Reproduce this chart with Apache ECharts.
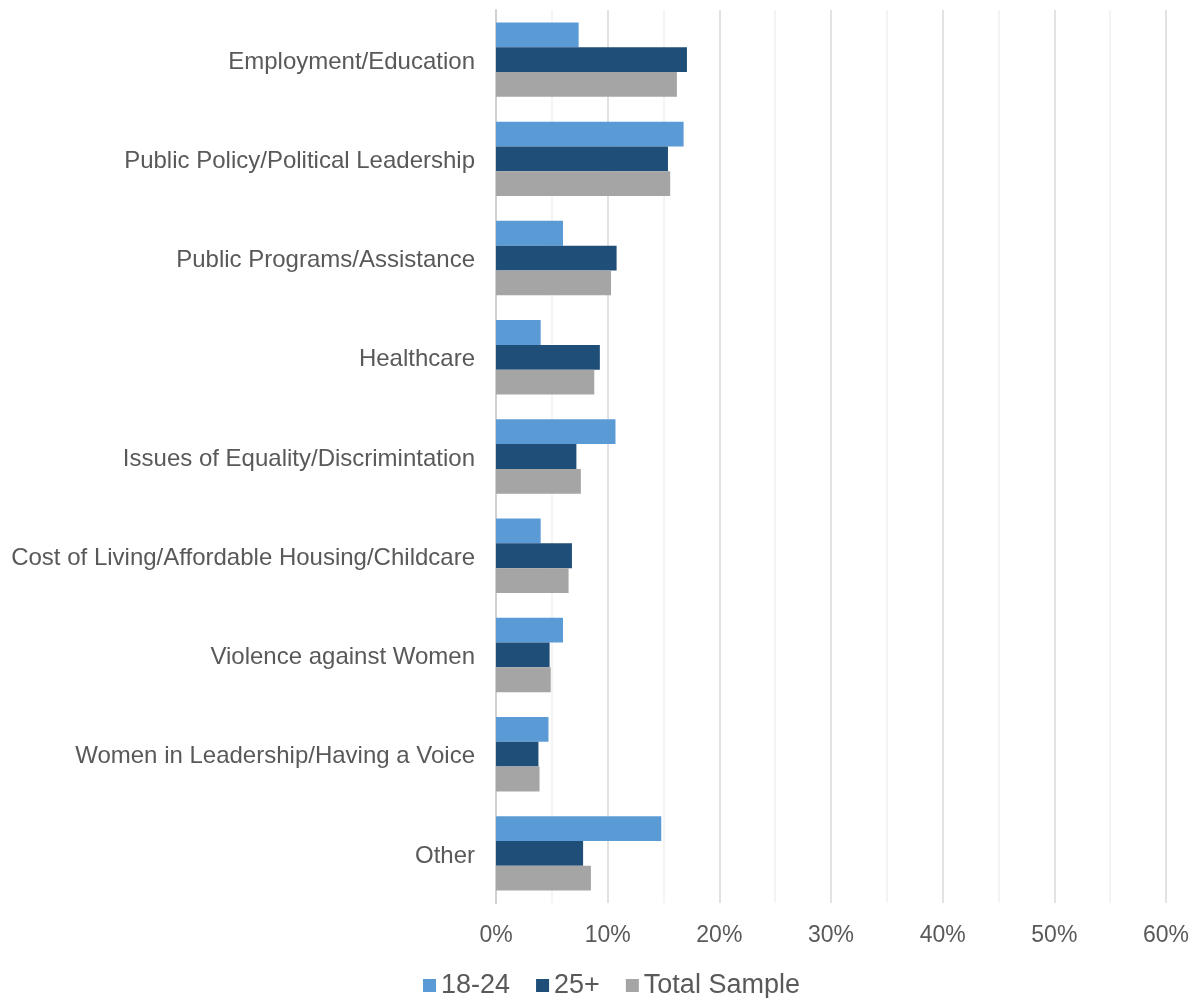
<!DOCTYPE html>
<html>
<head>
<meta charset="utf-8">
<script src="https://cdn.jsdelivr.net/npm/echarts@6/dist/echarts.min.js"></script>
<style>html,body{margin:0;padding:0;background:#fff}#c{width:1194px;height:998px}</style>
</head>
<body>
<div id="c"></div>
<script>
const categories = ["Employment/Education","Public Policy/Political Leadership","Public Programs/Assistance","Healthcare","Issues of Equality/Discrimintation","Cost of Living/Affordable Housing/Childcare","Violence against Women","Women in Leadership/Having a Voice","Other"];
const s1824 = [7.4,16.8,6.0,4.0,10.7,4.0,6.0,4.7,14.8];
const s25 = [17.1,15.4,10.8,9.3,7.2,6.8,4.8,3.8,7.8];
const sTotal = [16.2,15.6,10.3,8.8,7.6,6.5,4.9,3.9,8.5];
const seriesNames = ["18-24","25+","Total Sample"];
const colors = ["#5B9BD5","#1F4E79","#A5A5A5"];

const chart = echarts.init(document.getElementById('c'));
const font = "Liberation Sans, Arial, sans-serif";
const mk = (name, data, color) => ({
  name, type:'bar', data, barGap:'0%', barCategoryGap:'25%',
  itemStyle:{color}
});
chart.setOption({
  animation:false,
  textStyle:{fontFamily:font},
  color:colors,
  grid:{left:496,right:28,top:10,bottom:95,containLabel:false},
  legend:{
    top:972, left:423, itemWidth:13, itemHeight:13, itemGap:26, padding:0,
    icon:'rect',
    textStyle:{fontSize:27,color:'#595959',fontFamily:font},
    data:seriesNames
  },
  xAxis:{
    type:'value', min:0, max:60, interval:5,
    axisLine:{show:false}, axisTick:{show:false},
    axisLabel:{fontSize:23,color:'#595959',margin:21,fontFamily:font,
      formatter:v=> (v%10===0 ? v+'%' : '')},
    splitLine:{show:true,lineStyle:{color:['#d9d9d9','#f0f0f0'],width:1.5}}
  },
  yAxis:{
    type:'category', data:categories, inverse:true,
    axisLine:{show:true,lineStyle:{color:'#d0d0d0',width:2}},
    axisTick:{show:false},
    axisLabel:{fontSize:24,color:'#595959',margin:21,fontFamily:font,
      formatter:v=>'{a|'+v+'}',
      rich:{a:{fontSize:24,color:'#595959',fontFamily:font,padding:[5,0,0,0]}}}
  },
  series:[mk(seriesNames[0],s1824,colors[0]),mk(seriesNames[1],s25,colors[1]),mk(seriesNames[2],sTotal,colors[2])]
});
</script>
</body>
</html>
